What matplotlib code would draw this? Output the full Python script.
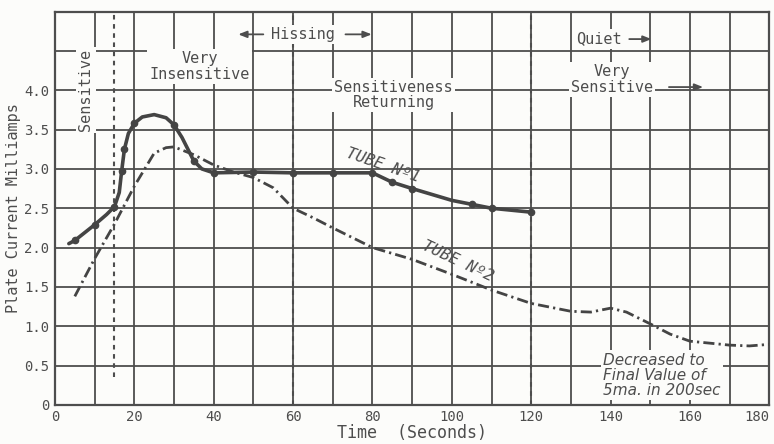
import numpy as np
import matplotlib
matplotlib.use("Agg")
import matplotlib.pyplot as plt

# --- data ---
# Tube No 1: curve (solid) and the measured dots on it
tube1_x = [3.5, 5, 10, 13, 15, 16.2, 16.8, 17.5, 18.5, 20, 22, 25, 28, 30, 32, 34, 35, 37, 40,
           50, 60, 70, 80, 85, 90, 100, 105, 110, 120]
tube1_y = [2.05, 2.09, 2.29, 2.42, 2.52, 2.7, 2.97, 3.25, 3.45, 3.58, 3.66, 3.69, 3.65, 3.56,
           3.4, 3.2, 3.1, 3.0, 2.95, 2.96, 2.95, 2.95, 2.95, 2.83, 2.75, 2.6, 2.55, 2.5, 2.45]
tube1_dot_x = [5, 10, 15, 16.8, 17.5, 20, 30, 35, 40, 50, 60, 70, 80, 85, 90, 105, 110, 120]
tube1_dot_y = [2.09, 2.29, 2.52, 2.97, 3.25, 3.58, 3.56, 3.1, 2.95, 2.96, 2.95, 2.95, 2.95,
               2.83, 2.75, 2.55, 2.5, 2.45]

# Tube No 2: dash-dot curve
tube2_x = [5, 10, 15, 20, 25, 28, 30, 35, 40, 45, 50, 55, 60, 65, 70, 80, 90, 100, 110, 120,
           130, 135, 140, 144, 150, 155, 160, 170, 175, 180]
tube2_y = [1.38, 1.86, 2.3, 2.78, 3.2, 3.27, 3.28, 3.18, 3.05, 2.96, 2.89, 2.76, 2.5, 2.38,
           2.25, 2.0, 1.85, 1.66, 1.46, 1.29, 1.19, 1.18, 1.23, 1.18, 1.03, 0.9, 0.81, 0.76,
           0.75, 0.77]

phase_x = [15, 60, 120]
phase_bottom = [0.35, 0.0, 0.0]

x_ticks = [0, 20, 40, 60, 80, 100, 120, 140, 160, 180]
x_labels = ["0", "20", "40", "60", "80", "100", "120", "140", "160", "180"]
y_ticks = [0, 0.5, 1.0, 1.5, 2.0, 2.5, 3.0, 3.5, 4.0]
y_labels = ["0", "0.5", "1.0", "1.5", "2.0", "2.5", "3.0", "3.5", "4.0"]

ink = "#4d4d4d"
paper = "#fcfcfa"
mono = "DejaVu Sans Mono"

fig = plt.figure(figsize=(7.74, 4.44), dpi=100, facecolor=paper)
ax = fig.add_axes([0.071, 0.088, 0.923, 0.886], facecolor=paper)
ax.set_xlim(0, 180)
ax.set_ylim(0, 5.0)

# grid
for gx in range(10, 180, 10):
    ax.axvline(gx, color=ink, lw=1.3, zorder=1)
for gy in np.arange(0.5, 5.0, 0.5):
    ax.axhline(gy, color=ink, lw=1.3, zorder=1)
for s in ax.spines.values():
    s.set_color(ink)
    s.set_linewidth(1.6)

# phase boundaries
for px, pb in zip(phase_x, phase_bottom):
    ax.plot([px, px], [pb, 5.0], color=ink, lw=1.5, ls=(0, (2.2, 2.2)), zorder=2)

# curves
ax.plot(tube1_x, tube1_y, color="#444444", lw=2.6, solid_capstyle="round", zorder=4)
ax.plot(tube1_dot_x, tube1_dot_y, "o", color="#444444", ms=4.5, zorder=5)
ax.plot(tube2_x, tube2_y, color="#444444", lw=2.0, dashes=[4, 1.5, 0.8, 1.5], zorder=4)

ax.set_xticks(x_ticks)
ax.set_xticklabels(x_labels, family=mono, fontsize=10, color=ink)
ax.get_xticklabels()[-1].set_horizontalalignment("right")
ax.set_yticks(y_ticks)
ax.set_yticklabels(y_labels, family=mono, fontsize=10, color=ink)
ax.tick_params(length=0, pad=4)
ax.set_xlabel("Time  (Seconds)", family=mono, fontsize=12, color=ink, labelpad=0)
ax.set_ylabel("Plate Current Milliamps", family=mono, fontsize=11, color=ink, labelpad=2)

box = dict(facecolor=paper, edgecolor="none", pad=1.5)
txt = dict(family=mono, fontsize=11, color=ink, ha="center", va="center",
           linespacing=1.05, zorder=6)

ax.text(7.8, 4.0, "Sensitive", rotation=90, bbox=box, **txt)
ax.text(36.5, 4.3, "Very\nInsensitive", bbox=box, **txt)
ax.text(62.6, 4.71, "Hissing", bbox=box, **txt)
ax.text(85.3, 3.94, "Sensitiveness\nReturning", bbox=box, **txt)
ax.text(137, 4.65, "Quiet", bbox=box, **txt)
ax.text(140.4, 4.14, "Very\nSensitive", bbox=box, **txt)

arrow = dict(arrowstyle="-|>,head_length=0.5,head_width=0.2", color=ink, lw=1.3)
ax.annotate("", xy=(45.5, 4.71), xytext=(53.2, 4.71), arrowprops=arrow, zorder=6)
ax.annotate("", xy=(80.5, 4.71), xytext=(72.5, 4.71), arrowprops=arrow, zorder=6)
ax.annotate("", xy=(151, 4.65), xytext=(144, 4.65), arrowprops=arrow, zorder=6)
ax.annotate("", xy=(164, 4.04), xytext=(154, 4.04), arrowprops=arrow, zorder=6)

ax.text(82.5, 3.05, "TUBE Nº1", rotation=-19, fontstyle="italic", **{**txt, "fontsize": 11.5})
ax.text(101.6, 1.83, "TUBE Nº2", rotation=-25, fontstyle="italic", **{**txt, "fontsize": 11.5})

ax.text(138.2, 0.38, "Decreased to\nFinal Value of\n5ma. in 200sec", family="DejaVu Sans",
        fontstyle="italic", fontsize=11, color=ink, ha="left", va="center",
        linespacing=1.0, bbox=box, zorder=6)

fig.savefig("out.png", dpi=100, facecolor=paper)
